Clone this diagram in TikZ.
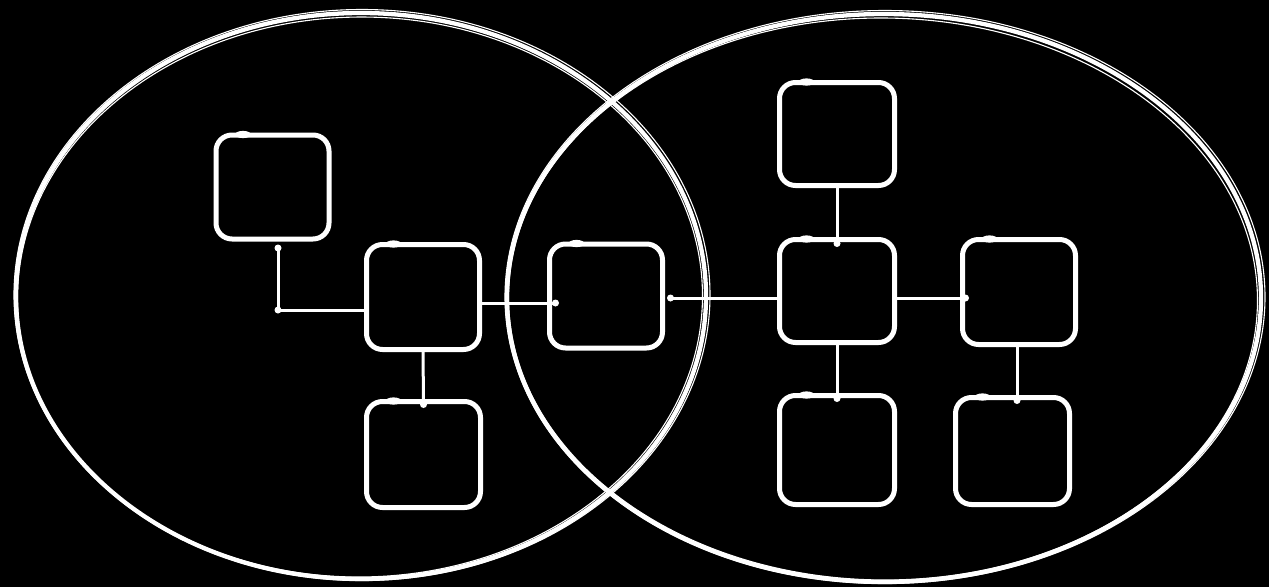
\documentclass[tikz,border=0pt]{standalone}
\begin{document}
\begin{tikzpicture}[x=1pt,y=-1pt,
  box/.style={draw=white, line width=5pt, rounded corners=16pt, minimum width=113pt, minimum height=104pt, inner sep=0pt, outer sep=0pt},
  link/.style={draw=white, line width=3pt},
  ring/.style={draw=white, line width=4.3pt},
  ringb/.style={draw=white, line width=1.1pt},
  dot/.style={fill=white}]
\fill[black] (0,0) rectangle (1269,587);
\useasboundingbox (0,0) rectangle (1269,587);
% ellipses
\draw[ring] (361,296) ellipse [x radius=345pt, y radius=283pt];
\draw[ringb] (362,295) ellipse [x radius=348pt, y radius=285.5pt];
\draw[ringb, rotate around={0.6:(361,296)}] (360,297) ellipse [x radius=342.5pt, y radius=280pt];
\draw[ring] (884,298) ellipse [x radius=377pt, y radius=284pt];
\draw[ringb] (885,297) ellipse [x radius=380pt, y radius=286.5pt];
\draw[ringb, rotate around={-0.5:(884,298)}] (883,299) ellipse [x radius=374.5pt, y radius=281pt];
% boxes
\node[box] (b1) at (272.5,187) {};
\node[box, minimum width=113pt, minimum height=105pt] (b2) at (423,297) {};
\node[box, minimum width=114pt, minimum height=106pt] (b3) at (423.5,454.5) {};
\node[box] (b4) at (606,296) {};
\node[box, minimum width=115pt, minimum height=103pt] (b5) at (837,134) {};
\node[box, minimum width=115pt, minimum height=103pt] (b6) at (837,291) {};
\node[box, minimum width=113pt, minimum height=105pt] (b7) at (1019,292) {};
\node[box, minimum width=115pt, minimum height=109pt] (b8) at (837,450) {};
\node[box, minimum width=114pt, minimum height=107pt] (b9) at (1012.5,451) {};
\foreach \b in {b1,b2,b3,b4,b5,b6,b7,b8,b9}
  \fill[white] ([xshift=27pt,yshift=0.5pt]\b.north west) ellipse [x radius=8pt, y radius=3.6pt];
% connectors
\coordinate (c1) at ([xshift=5.5pt,yshift=-9pt]b1.south);
\coordinate (e1) at ([yshift=-13pt]b2.west);
\draw[link] (c1) |- (e1);
\fill[dot] (c1) circle[radius=3.5pt];
\fill[dot] (c1 |- e1) circle[radius=3.5pt];

\coordinate (c2) at ([xshift=6pt,yshift=-7pt]b4.west);
\draw[link] ([yshift=-6pt]b2.east) -- (c2);
\fill[dot] (c2) circle[radius=3.5pt];

\coordinate (c3) at ([xshift=8pt,yshift=-2pt]b4.east);
\draw[link] (c3) -- ([yshift=-7pt]b6.west);
\fill[dot] (c3) circle[radius=3.5pt];

\coordinate (c4) at ([yshift=-4pt]b6.north);
\draw[link] (b5.south) -- (c4);
\fill[dot] (c4) circle[radius=3.5pt];

\coordinate (c5) at ([xshift=3pt,yshift=-6pt]b7.west);
\draw[link] ([yshift=-7pt]b6.east) -- (c5);
\fill[dot] (c5) circle[radius=3.5pt];

\coordinate (c6) at ([yshift=-3pt]b8.north);
\draw[link] (b6.south) -- (c6);
\fill[dot] (c6) circle[radius=3.5pt];

\coordinate (c7) at ([xshift=4.5pt,yshift=-3pt]b9.north);
\draw[link] ([xshift=-2pt]b7.south) -- (c7);
\fill[dot] (c7) circle[radius=3.5pt];

\coordinate (c8) at ([yshift=-3pt]b3.north);
\draw[link] (b2.south) -- (c8);
\fill[dot] (c8) circle[radius=3.5pt];
\end{tikzpicture}
\end{document}
